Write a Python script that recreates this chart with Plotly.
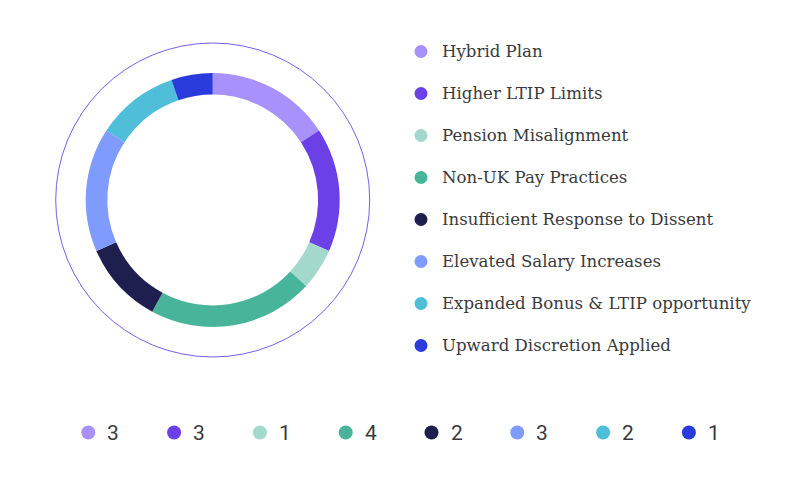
import plotly.graph_objects as go

# ---- data ----
categories = [
    "Hybrid Plan",
    "Higher LTIP Limits",
    "Pension Misalignment",
    "Non-UK Pay Practices",
    "Insufficient Response to Dissent",
    "Elevated Salary Increases",
    "Expanded Bonus & LTIP opportunity",
    "Upward Discretion Applied",
]
counts = [3, 3, 1, 4, 2, 3, 2, 1]
colors = ["#A991FC", "#6B40E6", "#A3D8CC", "#48B59B",
          "#1E1F4E", "#7F9BFD", "#4FBFD9", "#2A3BDB"]

W, H = 800, 479
cx, cy = 212.7, 200.0      # donut centre (px)
r_out = 127.0              # donut outer radius (px)
r_ring = 157.0             # thin outer circle radius (px)

fig = go.Figure()

fig.add_trace(go.Pie(
    labels=categories, values=counts,
    marker=dict(colors=colors, line=dict(width=0)),
    hole=0.83, sort=False, direction="clockwise", rotation=0,
    textinfo="none", hoverinfo="label+value", showlegend=False,
    domain=dict(x=[(cx - r_out) / W, (cx + r_out) / W],
                y=[1 - (cy + r_out) / H, 1 - (cy - r_out) / H]),
))

# right legend (category names)
leg_x_dot, leg_x_text = 421, 440
leg_y0, leg_dy = 51.5, 42.0
leg_ys = [leg_y0 + i * leg_dy for i in range(len(categories))]
fig.add_trace(go.Scatter(
    x=[leg_x_dot] * len(categories), y=leg_ys, mode="markers",
    marker=dict(size=13, color=colors), hoverinfo="skip", showlegend=False,
))
annotations = []
for name, y in zip(categories, leg_ys):
    annotations.append(dict(
        x=leg_x_text, y=y, xref="x", yref="y", text=name, showarrow=False,
        xanchor="left", yanchor="middle",
        font=dict(family="DejaVu Serif", size=16.6, color="#3a3a3a"),
    ))

# bottom legend (counts)
bot_x0, bot_dx, bot_y = 88.3, 85.8, 432.5
bot_xs = [bot_x0 + i * bot_dx for i in range(len(counts))]
fig.add_trace(go.Scatter(
    x=bot_xs, y=[bot_y] * len(counts), mode="markers",
    marker=dict(size=14, color=colors), hoverinfo="skip", showlegend=False,
))
for v, x in zip(counts, bot_xs):
    annotations.append(dict(
        x=x + 17, y=bot_y, xref="x", yref="y", text=str(v), showarrow=False,
        xanchor="left", yanchor="middle",
        font=dict(family="Roboto", size=21, color="#3a3a3a"),
    ))

fig.update_layout(
    width=W, height=H,
    margin=dict(l=0, r=0, t=0, b=0),
    paper_bgcolor="white", plot_bgcolor="rgba(0,0,0,0)",
    xaxis=dict(range=[0, W], visible=False, fixedrange=True),
    yaxis=dict(range=[H, 0], visible=False, fixedrange=True),
    annotations=annotations,
    shapes=[dict(
        type="circle", xref="x", yref="y",
        x0=cx - r_ring, x1=cx + r_ring, y0=cy - r_ring, y1=cy + r_ring,
        line=dict(color="#7B5CE8", width=1), layer="below",
    )],
    showlegend=False,
)

fig.write_html("out.html")
